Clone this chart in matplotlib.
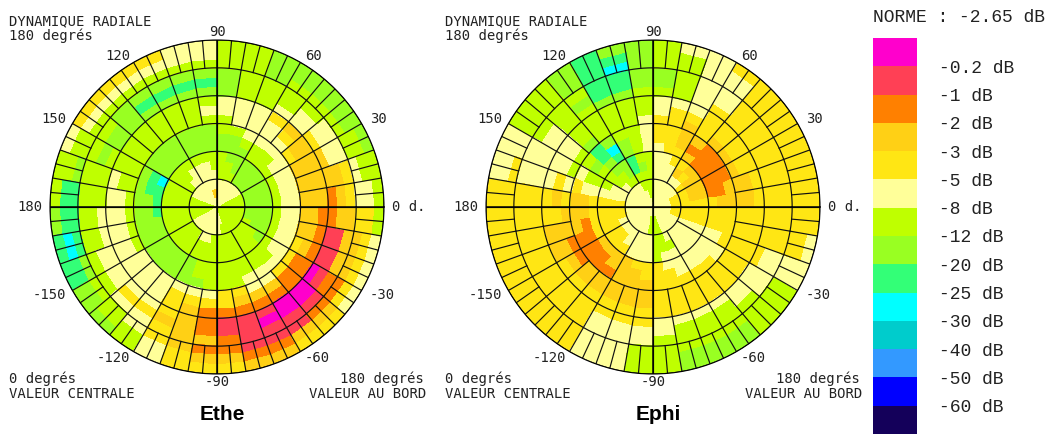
import numpy as np
import matplotlib
matplotlib.use("Agg")
import matplotlib.pyplot as plt
from matplotlib.colors import BoundaryNorm, ListedColormap


FIG_W = 1052
FIG_H = 434
CENTERS = [(217, 207), (653, 207)]
PLOT_RADIUS = 167

LEVEL_LABELS = ["-0.2 dB", "-1 dB", "-2 dB", "-3 dB", "-5 dB", "-8 dB", "-12 dB",
                "-20 dB", "-25 dB", "-30 dB", "-40 dB", "-50 dB", "-60 dB"]
LEVEL_COLORS = ["#ff00cc", "#ff4055", "#ff8000", "#ffd015", "#ffe614", "#ffff99", "#bfff00",
                "#99ff22", "#33ff77", "#00ffff", "#00cccc", "#3399ff", "#0000ff", "#14005a"]

# level index per cell, one row per 10 degrees of radius, 10 degree sectors from 0 d.
ETHE = [
    "666555 555555 555566 666555 555556 666666",
    "666555 555335 555566 666555 555556 666666",
    "666555 555555 555566 666555 555566 666666",
    "777777 666555 556666 666666 556666 666677",
    "777777 766655 566666 666666 666666 666777",
    "777777 776666 666666 666666 666666 667777",
    "666666 777777 777988 877777 766666 666666",
    "555566 677777 777887 777777 766666 665555",
    "555555 566777 777777 777777 776665 555555",
    "333455 556666 666666 666555 555445 544433",
    "333345 555566 666665 555555 444433 322333",
    "333334 555666 666655 555555 432222 222222",
    "233455 667777 777666 555555 432111 000112",
    "335556 667888 877766 665544 332110 001113",
    "445566 667777 776666 666655 433211 112333",
    "556666 766666 666678 887665 432211 122334",
    "566777 766555 555668 898766 543322 334444",
    "667777 766554 444566 788776 544433 445556",
]

EPHI = [
    "555555 555655 555555 555555 555655 555555",
    "555555 555665 555555 555555 556665 555555",
    "444555 555666 555555 555555 556665 555544",
    "444455 555666 665554 445555 555665 555544",
    "433343 555678 766554 444445 555666 555544",
    "433334 455668 776654 444444 555655 555544",
    "422223 445567 876654 444333 344455 555544",
    "322222 344567 987653 322223 334445 555544",
    "332223 344566 786543 332222 333444 445444",
    "333334 344566 676654 332233 333444 444444",
    "334444 445666 665543 433333 333444 444444",
    "444444 555666 665554 433444 444444 444444",
    "444444 566677 665554 444444 444555 555444",
    "444445 567788 765554 444444 555566 655544",
    "444445 567788 666554 444444 555666 665544",
    "444445 566798 766544 444444 556666 666544",
    "444445 566788 766554 444444 556677 766544",
    "444444 556778 766554 444444 556677 766554",
]

TITLES = ["Ethe", "Ephi"]

# label text and pixel offset from the plot centre
ANGLE_LABELS = ["90", "120", "150", "180", "60", "30", "-30", "-60", "-90", "-120", "-150"]
ANGLE_OFFSETS = [(0, -175), (-99, -151), (-163, -88), (-187, 0), (96, -151), (161, -88),
                 (165, 88), (100, 151), (0, 175), (-104, 151), (-168, 88)]

# radius limits in degrees and spoke step for each ring of the grid
RING_EDGES = [0, 30, 60, 90, 120, 150, 180]
RING_STEPS = [90, 30, 30, 10, 10, 5]


def px_x(x):
    return x / FIG_W


def px_y(y):
    return 1 - y / FIG_H


def parse_rows(rows):
    return np.array([[int(c) for c in row.replace(" ", "")] for row in rows])


def draw_polar(fig, center, rows, title, cmap, norm):
    cx, cy = center
    ax = fig.add_axes(
        [px_x(cx - PLOT_RADIUS), px_y(cy + PLOT_RADIUS),
         2 * PLOT_RADIUS / FIG_W, 2 * PLOT_RADIUS / FIG_H],
        projection="polar",
    )
    levels = parse_rows(rows)
    theta = np.radians(np.arange(0, 361, 10))
    radius = np.arange(0, 181, 10)
    ax.pcolormesh(theta, radius, levels, cmap=cmap, norm=norm, shading="flat", rasterized=True)

    fine = np.radians(np.linspace(0, 360, 361))
    for edge in RING_EDGES[1:]:
        ax.plot(fine, np.full_like(fine, edge), color="#111111", lw=0.85)
    for i, step in enumerate(RING_STEPS):
        for angle in range(0, 360, step):
            ax.plot([np.radians(angle)] * 2, [RING_EDGES[i], RING_EDGES[i + 1]],
                    color="#111111", lw=0.85)
    for angle in (0, 90, 180, 270):
        ax.plot([np.radians(angle)] * 2, [0, 180], color="black", lw=1.1)

    ax.set_ylim(0, 180)
    ax.set_xticks([])
    ax.set_yticks([])
    ax.grid(False)
    ax.spines["polar"].set_linewidth(0.8)

    mono = dict(family="DejaVu Sans Mono", size=10, color="#222222")
    for label, (dx, dy) in zip(ANGLE_LABELS, ANGLE_OFFSETS):
        fig.text(px_x(cx + dx), px_y(cy + dy), label, ha="center", va="center", **mono)
    fig.text(px_x(cx + 175), px_y(cy), "0 d.", ha="left", va="center", **mono)

    left = cx - 208
    right = cx + 209
    fig.text(px_x(left), px_y(21), "DYNAMIQUE RADIALE", ha="left", va="center", **mono)
    fig.text(px_x(left), px_y(36), "180 degrés", ha="left", va="center", **mono)
    fig.text(px_x(left), px_y(379), "0 degrés", ha="left", va="center", **mono)
    fig.text(px_x(left), px_y(394), "VALEUR CENTRALE", ha="left", va="center", **mono)
    fig.text(px_x(right - 2), px_y(379), "180 degrés", ha="right", va="center", **mono)
    fig.text(px_x(right), px_y(394), "VALEUR AU BORD", ha="right", va="center", **mono)

    fig.text(px_x(cx + 5), px_y(415), title, ha="center", va="center",
             family="Liberation Sans", weight="bold", size=15, color="black")


def draw_scale(fig):
    ax = fig.add_axes([px_x(873), px_y(434), 44 / FIG_W, 396 / FIG_H])
    ax.imshow(np.arange(len(LEVEL_COLORS)).reshape(-1, 1), aspect="auto",
              cmap=ListedColormap(LEVEL_COLORS), interpolation="nearest")
    ax.axis("off")

    step = 396 / len(LEVEL_COLORS)
    for i, label in enumerate(LEVEL_LABELS):
        fig.text(px_x(939), px_y(38 + step * (i + 1) + 2), label, ha="left", va="center",
                 family="Liberation Mono", size=13, color="#222222")
    fig.text(px_x(873), px_y(17), "NORME : -2.65 dB", ha="left", va="center",
             family="Liberation Mono", size=13, color="#222222")


def main():
    cmap = ListedColormap(LEVEL_COLORS)
    norm = BoundaryNorm(np.arange(len(LEVEL_COLORS) + 1) - 0.5, cmap.N)

    fig = plt.figure(figsize=(FIG_W / 100, FIG_H / 100), dpi=100, facecolor="white")
    draw_polar(fig, CENTERS[0], ETHE, TITLES[0], cmap, norm)
    draw_polar(fig, CENTERS[1], EPHI, TITLES[1], cmap, norm)
    draw_scale(fig)
    fig.savefig("out.png", dpi=100)


if __name__ == "__main__":
    main()
